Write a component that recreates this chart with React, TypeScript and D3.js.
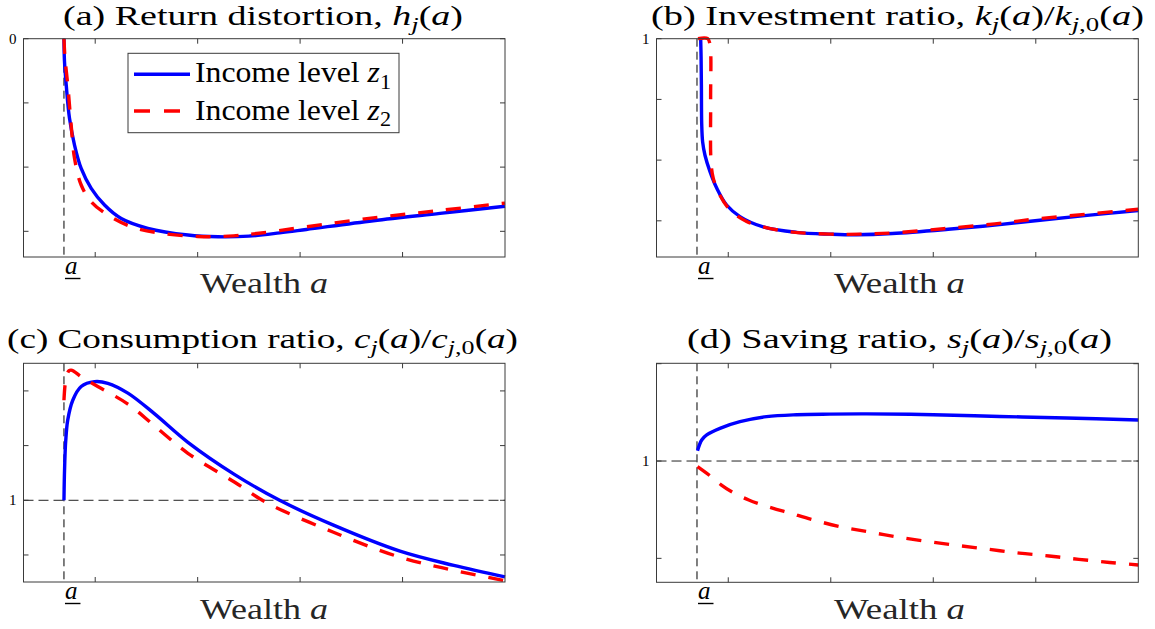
import React from "react";
import * as d3 from "d3";

// ---------- data ----------
const X_TICKS = [1, 2, 3, 4];
const A_BAR = 0.695;
const X_DOMAIN: [number, number] = [0.3, 5];

// (a) Return distortion h_j(a)
const hX_z1 = [0.695, 0.7, 0.717, 0.749, 0.798, 0.863, 0.961, 1.091, 1.254, 1.514, 1.905, 2.2, 2.5, 2.8, 3.06, 3.714, 4.366, 5.0];
const hY_z1 = [0, -0.35, -0.72, -1.24, -1.656, -2.02, -2.33, -2.59, -2.8, -2.953, -3.058, -3.085, -3.075, -3.025, -2.972, -2.835, -2.72, -2.61];
const hX_z2 = [0.695, 0.705, 0.732, 0.765, 0.798, 0.863, 0.961, 1.123, 1.352, 1.645, 2.0, 2.3, 2.6, 3.06, 3.714, 4.366, 5.0];
const hY_z2 = [0, -0.3, -0.72, -1.344, -1.863, -2.279, -2.539, -2.746, -2.928, -3.03, -3.08, -3.075, -3.03, -2.93, -2.79, -2.675, -2.56];

// (b) Investment ratio k_j(a)/k_j0(a)
const kX_z1 = [0.731, 0.735, 0.738, 0.741, 0.75, 0.773, 0.822, 0.887, 0.984, 1.114, 1.341, 1.666, 2.0, 2.25, 2.6, 3.145, 3.6, 4.04, 4.5, 5.0];
const kY_z1 = [1.0, 0.97, 0.924, 0.86, 0.83, 0.808, 0.781, 0.754, 0.726, 0.707, 0.69, 0.681, 0.678, 0.677, 0.679, 0.686, 0.693, 0.701, 0.709, 0.717];
const kX_z2 = [0.705, 0.8, 0.822, 0.828, 0.832, 0.854, 0.919, 1.017, 1.179, 1.341, 1.601, 2.0, 2.282, 2.6, 3.1, 3.6, 4.0, 4.5, 5.0];
const kY_z2 = [1.0, 1.0, 0.99, 0.9, 0.797, 0.77, 0.742, 0.718, 0.699, 0.69, 0.682, 0.678, 0.678, 0.68, 0.687, 0.695, 0.703, 0.711, 0.719];

// (c) Consumption ratio c_j(a)/c_j0(a)
const cX_z1 = [0.695, 0.698, 0.703, 0.712, 0.732, 0.781, 0.863, 0.993, 1.123, 1.319, 1.58, 1.905, 2.362, 2.8, 3.32, 3.975, 4.5, 5.0];
const cY_z1 = [1.0, 1.035, 1.07, 1.108, 1.147, 1.183, 1.208, 1.217, 1.214, 1.196, 1.158, 1.106, 1.047, 1.0, 0.955, 0.907, 0.881, 0.86];
const cX_z2 = [0.695, 0.705, 0.72, 0.745, 0.765, 0.79, 0.863, 1.025, 1.319, 1.58, 1.905, 2.362, 2.67, 3.32, 3.975, 4.5, 5.0];
const cY_z2 = [1.183, 1.21, 1.228, 1.237, 1.238, 1.236, 1.226, 1.208, 1.176, 1.136, 1.086, 1.033, 0.996, 0.942, 0.896, 0.872, 0.853];

// (d) Saving ratio s_j(a)/s_j0(a)
const sX_z1 = [0.7, 0.741, 0.79, 0.919, 1.114, 1.374, 1.666, 1.99, 2.35, 3.0, 3.65, 4.3, 5.0];
const sY_z1 = [1.053, 1.108, 1.134, 1.168, 1.202, 1.228, 1.238, 1.241, 1.242, 1.238, 1.229, 1.221, 1.211];
const sX_z2 = [0.7, 0.82, 0.93, 1.05, 1.2, 1.33, 1.47, 1.6, 1.81, 2.1, 2.39, 2.67, 2.97, 3.26, 3.55, 3.84, 4.13, 4.42, 4.72, 5.0];
const sY_z2 = [0.971, 0.925, 0.878, 0.837, 0.8, 0.775, 0.752, 0.733, 0.7, 0.662, 0.634, 0.608, 0.585, 0.565, 0.546, 0.527, 0.512, 0.495, 0.479, 0.466];

const yTicksA = [0, -1, -2, -3];
const yTicksB = [1, 0.9, 0.8, 0.7];
const yTicksC = [0.9, 1, 1.1, 1.2];
const yTicksD = [0.5, 1, 1.5];

const LEGEND_TEXT = ["Income level ", "Income level "];
const LEGEND_SUB = ["1", "2"];

// ---------- rendering ----------
type Piece = { t: string; i?: boolean; sub?: boolean };

const titleA: Piece[] = [
  { t: "(a) Return distortion, " }, { t: "h", i: true }, { t: "j", i: true, sub: true },
  { t: "(" }, { t: "a", i: true }, { t: ")" },
];
const titleB: Piece[] = [
  { t: "(b) Investment ratio, " }, { t: "k", i: true }, { t: "j", i: true, sub: true },
  { t: "(" }, { t: "a", i: true }, { t: ")/" }, { t: "k", i: true }, { t: "j", i: true, sub: true },
  { t: ",0", sub: true }, { t: "(" }, { t: "a", i: true }, { t: ")" },
];
const titleC: Piece[] = [
  { t: "(c) Consumption ratio, " }, { t: "c", i: true }, { t: "j", i: true, sub: true },
  { t: "(" }, { t: "a", i: true }, { t: ")/" }, { t: "c", i: true }, { t: "j", i: true, sub: true },
  { t: ",0", sub: true }, { t: "(" }, { t: "a", i: true }, { t: ")" },
];
const titleD: Piece[] = [
  { t: "(d) Saving ratio, " }, { t: "s", i: true }, { t: "j", i: true, sub: true },
  { t: "(" }, { t: "a", i: true }, { t: ")/" }, { t: "s", i: true }, { t: "j", i: true, sub: true },
  { t: ",0", sub: true }, { t: "(" }, { t: "a", i: true }, { t: ")" },
];

const FONT = "Liberation Serif, DejaVu Serif, serif";

function MathText({ pieces, x, y, size, width, fill = "#000" }: { pieces: Piece[]; x: number; y: number; size: number; width: number; fill?: string }) {
  const subShift = size * 0.22;
  let inSub = false;
  return (
    <text x={x} y={y} style={{ fontFamily: FONT }} fontSize={size} fill={fill} textLength={width} lengthAdjust="spacingAndGlyphs">
      {pieces.map((p, k) => {
        let dy = 0;
        if (p.sub && !inSub) { dy = subShift; inSub = true; }
        else if (!p.sub && inSub) { dy = -subShift; inSub = false; }
        return (
          <tspan key={k} dy={dy || undefined} fontStyle={p.i ? "italic" : "normal"} fontSize={p.sub ? size * 0.7 : size}>
            {p.t}
          </tspan>
        );
      })}
    </text>
  );
}

type Panel = {
  key: string;
  box: { l: number; r: number; t: number; b: number };
  yDomain: [number, number];
  yTicks: number[];
  yLabel: { v: number; text: string };
  hline: number | null;
  title: Piece[];
  titleX: number; titleW: number; titleY: number;
  xlabX: number; xlabW: number; xlabY: number;
  aY: number;
  s1: [number[], number[]];
  s2: [number[], number[]];
  legend?: boolean;
};

const panels: Panel[] = [
  {
    key: "a", box: { l: 23.5, r: 505, t: 38.7, b: 257 }, yDomain: [-3.4, 0], yTicks: yTicksA,
    yLabel: { v: 0, text: "0" }, hline: null, title: titleA, titleX: 63, titleW: 400, titleY: 25,
    xlabX: 200, xlabW: 128, xlabY: 293, aY: 274, s1: [hX_z1, hY_z1], s2: [hX_z2, hY_z2], legend: true,
  },
  {
    key: "b", box: { l: 656.5, r: 1138.3, t: 38.7, b: 257 }, yDomain: [0.6404, 1.0], yTicks: yTicksB,
    yLabel: { v: 1, text: "1" }, hline: null, title: titleB, titleX: 651, titleW: 493, titleY: 25,
    xlabX: 834, xlabW: 131, xlabY: 293, aY: 274, s1: [kX_z1, kY_z1], s2: [kX_z2, kY_z2],
  },
  {
    key: "c", box: { l: 23.5, r: 505, t: 363.3, b: 582 }, yDomain: [0.8506, 1.2505], yTicks: yTicksC,
    yLabel: { v: 1, text: "1" }, hline: 1, title: titleC, titleX: 7, titleW: 511, titleY: 347.5,
    xlabX: 200, xlabW: 128, xlabY: 619, aY: 599, s1: [cX_z1, cY_z1], s2: [cX_z2, cY_z2],
  },
  {
    key: "d", box: { l: 656.5, r: 1138.3, t: 363.3, b: 582.3 }, yDomain: [0.377, 1.502], yTicks: yTicksD,
    yLabel: { v: 1, text: "1" }, hline: 1, title: titleD, titleX: 687, titleW: 425, titleY: 347.5,
    xlabX: 834, xlabW: 131, xlabY: 619, aY: 599, s1: [sX_z1, sY_z1], s2: [sX_z2, sY_z2],
  },
];

const BLUE = "#0000ff";
const RED = "#ff0000";
const AXIS = "#3a3a3a";

function PanelView({ p }: { p: Panel }) {
  const x = d3.scaleLinear().domain(X_DOMAIN).range([p.box.l, p.box.r]);
  const y = d3.scaleLinear().domain(p.yDomain).range([p.box.b, p.box.t]);
  const mk = (xs: number[], ys: number[]) =>
    d3.line<number>().x((_, i) => x(xs[i])).y((_, i) => y(ys[i])).curve(d3.curveCatmullRom.alpha(0.5))(xs) || "";
  const tl = 5;
  const xa = x(A_BAR);
  return (
    <g>
      <line x1={xa} x2={xa} y1={p.box.t} y2={p.box.b} stroke="#000" strokeWidth={1} strokeDasharray="8,5" />
      {p.hline !== null && (
        <line x1={p.box.l} x2={p.box.r} y1={y(p.hline)} y2={y(p.hline)} stroke="#222" strokeWidth={1} strokeDasharray="10,5" />
      )}
      <path d={mk(p.s1[0], p.s1[1])} fill="none" stroke={BLUE} strokeWidth={3.4} strokeLinejoin="round" />
      <path d={mk(p.s2[0], p.s2[1])} fill="none" stroke={RED} strokeWidth={3.4} strokeDasharray="15,13" />
      <rect x={p.box.l} y={p.box.t} width={p.box.r - p.box.l} height={p.box.b - p.box.t} fill="none" stroke={AXIS} strokeWidth={1} />
      {X_TICKS.map((t) => (
        <g key={"xt" + t}>
          <line x1={x(t)} x2={x(t)} y1={p.box.b} y2={p.box.b - tl} stroke={AXIS} />
          <line x1={x(t)} x2={x(t)} y1={p.box.t} y2={p.box.t + tl} stroke={AXIS} />
        </g>
      ))}
      {p.yTicks.map((t) => (
        <g key={"yt" + t}>
          <line x1={p.box.l} x2={p.box.l + tl} y1={y(t)} y2={y(t)} stroke={AXIS} />
          <line x1={p.box.r} x2={p.box.r - tl} y1={y(t)} y2={y(t)} stroke={AXIS} />
        </g>
      ))}
      <text x={p.box.l - 7} y={y(p.yLabel.v) + 5} fontSize={15} style={{ fontFamily: FONT }} textAnchor="end" fill="#000">
        {p.yLabel.text}
      </text>
      <text x={xa + 1} y={p.aY} fontSize={25} style={{ fontFamily: FONT }} fontStyle="italic" fill="#000">a</text>
      <line x1={xa + 1} x2={xa + 16.5} y1={p.aY + 4.5} y2={p.aY + 4.5} stroke="#000" strokeWidth={1.4} />
      <text x={p.xlabX} y={p.xlabY} fontSize={30} style={{ fontFamily: FONT }} fill="#262626" textLength={p.xlabW} lengthAdjust="spacingAndGlyphs">
        Wealth <tspan fontStyle="italic">a</tspan>
      </text>
      <MathText pieces={p.title} x={p.titleX} y={p.titleY} size={28} width={p.titleW} />
      {p.legend && (
        <g>
          <rect x={128} y={53.3} width={271} height={79.4} fill="#fff" stroke={AXIS} strokeWidth={1} />
          {[0, 1].map((k) => (
            <g key={"lg" + k}>
              <line x1={134} x2={190} y1={k === 0 ? 74.3 : 111} y2={k === 0 ? 74.3 : 111}
                stroke={k === 0 ? BLUE : RED} strokeWidth={3.4} strokeDasharray={k === 0 ? undefined : "16,14"} />
              <MathText
                pieces={[{ t: LEGEND_TEXT[k] }, { t: "z", i: true }, { t: LEGEND_SUB[k], sub: true }]}
                x={195} y={k === 0 ? 82.3 : 120} size={29} width={196} />
            </g>
          ))}
        </g>
      )}
    </g>
  );
}

export default function App() {
  return (
    <div style={{ position: "absolute", left: 0, top: 0 }}>
      <svg width={1155} height={629} viewBox="0 0 1155 629" style={{ display: "block", background: "#fff" }}>
        <rect width={1155} height={629} fill="#fff" />
        {panels.map((p) => (
          <PanelView key={p.key} p={p} />
        ))}
      </svg>
    </div>
  );
}
